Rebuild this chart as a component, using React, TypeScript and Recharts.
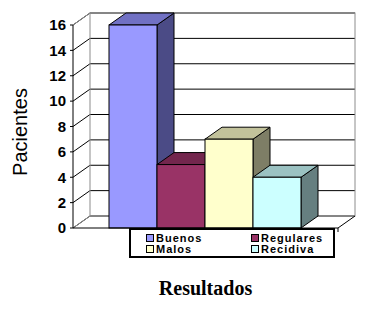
import React from 'react';
import { BarChart, Bar, XAxis, YAxis, CartesianGrid, ReferenceArea, Legend } from 'recharts';

const categories = ['Resultados'];
const seriesNames = ['Buenos', 'Regulares', 'Malos', 'Recidiva'];
const buenos = [16];
const regulares = [5];
const malos = [7];
const recidiva = [4];
const yTicks = [0, 2, 4, 6, 8, 10, 12, 14, 16];

const data = categories.map((c, i) => ({
  cat: c,
  Buenos: buenos[i],
  Regulares: regulares[i],
  Malos: malos[i],
  Recidiva: recidiva[i],
}));

const COLORS: Record<string, { front: string; top: string; side: string }> = {
  Buenos: { front: '#9999FF', top: '#7171C4', side: '#4B4B86' },
  Regulares: { front: '#993366', top: '#73264D', side: '#4D1A33' },
  Malos: { front: '#FFFFCC', top: '#C2C29B', side: '#7E7E66' },
  Recidiva: { front: '#CCFFFF', top: '#9BC2C2', side: '#667F80' },
};

const DX = 17;
const DY = 12;
const SANS = '"Liberation Sans", Arial, sans-serif';
const SERIF = '"Liberation Serif", "Times New Roman", serif';

function make3DShape(c: { front: string; top: string; side: string }) {
  return (props: any) => {
    const { x, y, width: w, height: h } = props;
    if (w == null || h == null) return <g />;
    return (
      <g>
        <polygon
          points={`${x + w},${y} ${x + w + DX},${y - DY} ${x + w + DX},${y + h - DY} ${x + w},${y + h}`}
          fill={c.side}
          stroke="#000"
          strokeWidth={1}
        />
        <polygon
          points={`${x},${y} ${x + DX},${y - DY} ${x + w + DX},${y - DY} ${x + w},${y}`}
          fill={c.top}
          stroke="#000"
          strokeWidth={1}
        />
        <rect x={x} y={y} width={w} height={h} fill={c.front} stroke="#000" strokeWidth={1} />
      </g>
    );
  };
}

const gridLine = (p: any) => {
  const { x1, y1, x2 } = p;
  return (
    <g key={p.key ?? `g-${y1}`}>
      <line x1={x1} y1={y1} x2={x1 + DX} y2={y1 - DY} stroke="#000" strokeWidth={1} />
      <line x1={x1 + DX} y1={y1 - DY} x2={x2 + DX} y2={y1 - DY} stroke="#000" strokeWidth={1} />
    </g>
  );
};

const wallShape = (p: any) => {
  const { x, y, width: w, height: h } = p;
  const bx = x + DX;
  const by = y - DY;
  return (
    <g>
      <rect x={bx} y={by} width={w} height={h} fill="none" stroke="#8c8c8c" strokeWidth={1} />
      <line x1={x} y1={y} x2={bx} y2={by} stroke="#8c8c8c" strokeWidth={1} />
      <line x1={x} y1={y + h} x2={bx} y2={by + h} stroke="#8c8c8c" strokeWidth={1} />
      <line x1={x + w} y1={y + h} x2={bx + w} y2={by + h} stroke="#000" strokeWidth={1} />
      <line x1={x + w} y1={y + h} x2={x + w} y2={y + h + 4} stroke="#000" strokeWidth={1} />
    </g>
  );
};

const LegendBox = () => (
  <div
    style={{
      boxSizing: 'border-box',
      width: 206,
      height: 30,
      border: '2px solid #000',
      background: '#fff',
      position: 'relative',
      fontFamily: SANS,
    }}
  >
    {seriesNames.map((name, i) => (
      <div
        key={name}
        style={{
          position: 'absolute',
          left: i % 2 === 0 ? 15 : 120,
          top: i < 2 ? 3 : 13.5,
          display: 'flex',
          alignItems: 'center',
          height: 10,
          lineHeight: '10px',
          fontSize: 11,
          fontWeight: 'bold',
          letterSpacing: 1,
          color: '#000',
          whiteSpace: 'nowrap',
        }}
      >
        <span
          style={{
            display: 'inline-block',
            width: 8,
            height: 8,
            boxSizing: 'border-box',
            border: '1px solid #000',
            background: COLORS[name].front,
            marginRight: 2,
          }}
        />
        <span>{name}</span>
      </div>
    ))}
  </div>
);

export default function App() {
  return (
    <div style={{ width: 366, height: 309, background: '#fff' }}>
      <style>{'body{margin:0;background:#fff;}'}</style>
      <BarChart
        width={366}
        height={309}
        data={data}
        margin={{ top: 25, right: 28, bottom: 51, left: 0 }}
        barCategoryGap={36}
        barGap={0}
      >
        <CartesianGrid vertical={false} horizontal={gridLine} />
        <ReferenceArea y1={0} y2={16} shape={wallShape} ifOverflow="visible" />
        <XAxis
          dataKey="cat"
          height={30}
          tick={false}
          tickLine={false}
          axisLine={{ stroke: '#000' }}
          label={{
            content: (lp: any) => {
              const vb = lp.viewBox || { x: 73, y: 228, width: 265 };
              return (
                <text
                  x={vb.x + vb.width / 2}
                  y={vb.y + 67}
                  textAnchor="middle"
                  fontFamily={SERIF}
                  fontWeight="bold"
                  fontSize={20}
                  fill="#000"
                >
                  Resultados
                </text>
              );
            },
          }}
        />
        <YAxis
          width={73}
          domain={[0, 16]}
          ticks={yTicks}
          interval={0}
          tickSize={3}
          tickMargin={4}
          axisLine={{ stroke: '#000' }}
          tickLine={{ stroke: '#000' }}
          tick={{ fontFamily: SANS, fontSize: 15, fontWeight: 'bold', fill: '#000' }}
          label={{
            content: (lp: any) => {
              const vb = lp.viewBox || { y: 25, height: 203 };
              const cy = vb.y + vb.height / 2 + 5.5;
              return (
                <text
                  x={20}
                  y={cy}
                  transform={`rotate(-90, 20, ${cy})`}
                  textAnchor="middle"
                  dominantBaseline="central"
                  fontFamily={SANS}
                  fontSize={20}
                  fill="#000"
                >
                  Pacientes
                </text>
              );
            },
          }}
        />
        {seriesNames.map((name) => (
          <Bar
            key={name}
            dataKey={name}
            fill={COLORS[name].front}
            isAnimationActive={false}
            shape={make3DShape(COLORS[name])}
          />
        ))}
        <Legend
          layout="horizontal"
          verticalAlign="middle"
          align="center"
          wrapperStyle={{ position: 'absolute', left: 129, top: 228, width: 206, height: 30 }}
          content={() => <LegendBox />}
        />
      </BarChart>
    </div>
  );
}
